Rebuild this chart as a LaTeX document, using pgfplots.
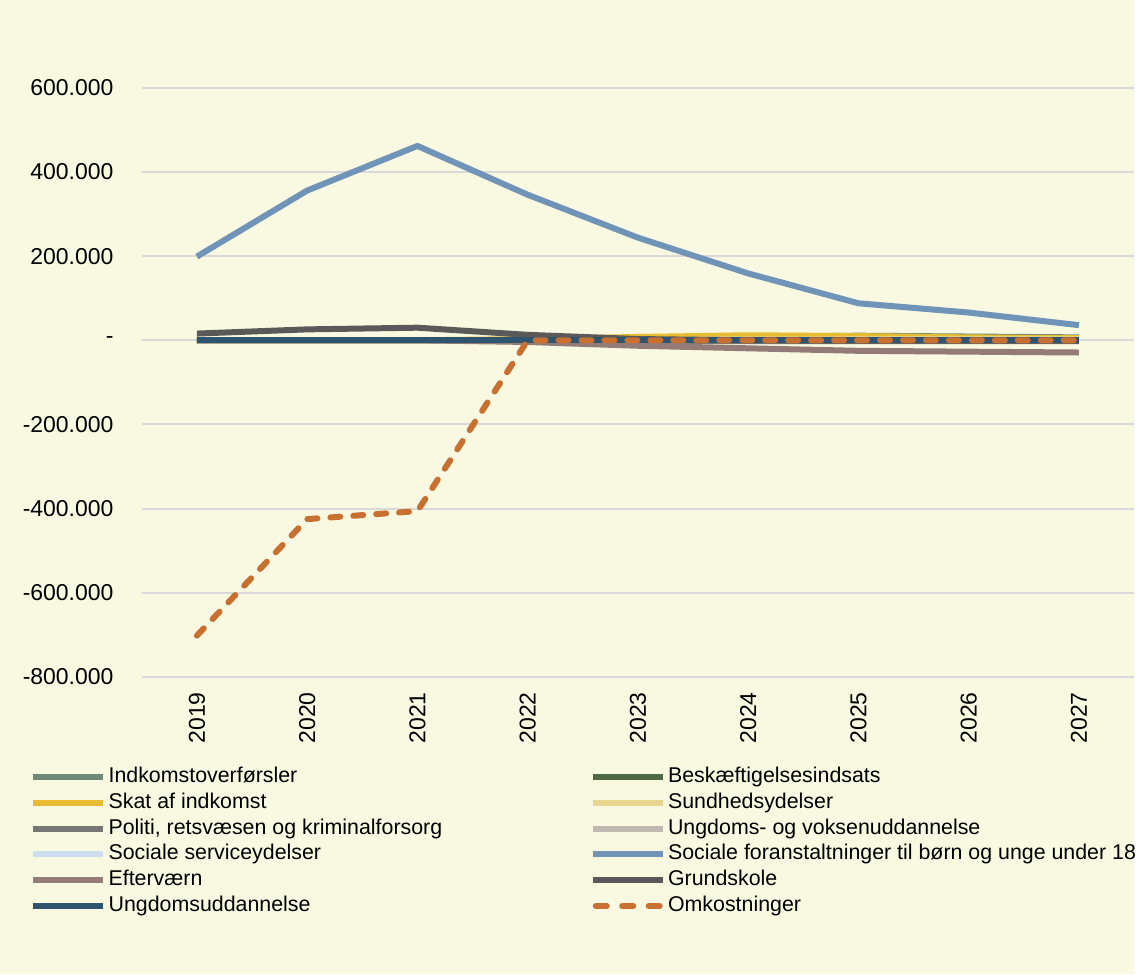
\documentclass[border=0pt]{standalone}
\usepackage{fontspec}
\setmainfont{Liberation Sans}
\usepackage{pgfplots}
\pgfplotsset{compat=1.18}
\pgfplotsset{omklegend/.style={legend image code/.code={\draw[##1, dash pattern=on 5.5pt off 7.75pt] (1.5pt,0pt) -- (33.5pt,0pt);}}}
\definecolor{bg}{HTML}{F9F8E1}
\definecolor{gridc}{HTML}{D9D9D9}
\definecolor{cInd}{HTML}{6E8B7A}
\definecolor{cBes}{HTML}{4F6B45}
\definecolor{cSkat}{HTML}{E8BC30}
\definecolor{cSund}{HTML}{E8D590}
\definecolor{cPol}{HTML}{777777}
\definecolor{cUngV}{HTML}{BEB8B0}
\definecolor{cSoc}{HTML}{CCDDF0}
\definecolor{cFor}{HTML}{7094B8}
\definecolor{cEft}{HTML}{957B78}
\definecolor{cGrund}{HTML}{595959}
\definecolor{cUngd}{HTML}{2F5470}
\definecolor{cOmk}{HTML}{C87030}
\begin{document}
\begin{tikzpicture}
\fill[bg] (0,0) rectangle (568pt,-488pt);
\begin{axis}[
  at={(71pt,-339pt)}, anchor=south west,
  scale only axis, width=497pt, height=295pt,
  xmin=-0.5, xmax=8.5, ymin=-800000, ymax=600000,
  scaled y ticks=false,
  axis line style={draw=none}, major tick length=0pt,
  xtick={0,...,8},
  xticklabels={2019,2020,2021,2022,2023,2024,2025,2026,2027},
  xticklabel style={rotate=90, anchor=east, font=\fontsize{11.5}{13}\selectfont, inner sep=0pt, xshift=-7.5pt},
  ytick={-800000,-600000,-400000,-200000,0,200000,400000,600000},
  yticklabels={-800.000,-600.000,-400.000,-200.000,-,200.000,400.000,600.000},
  yticklabel style={anchor=east, inner sep=0pt, xshift=-14pt, font=\fontsize{11.5}{13}\selectfont},
  ymajorgrids, major grid style={draw=gridc, line width=1pt},
  every axis plot/.append style={line width=3pt, line join=round},
  legend columns=2,
  legend cell align=left,
  legend image code/.code={\draw[#1] (0pt,0pt) -- (35pt,0pt);},
  legend style={draw=none, fill=none, inner sep=0pt, at={(-0.1127,-0.153)}, anchor=north west,
    font=\fontsize{10.7}{12}\selectfont,
    nodes={inner sep=0pt, text height=7.6pt, text depth=2.2pt},
    row sep=3.1pt,
    /tikz/every even column/.append style={column sep=0pt},
  },
]
\addplot[cInd] coordinates {(0,0)(1,0)(2,0)(3,1000)(4,4000)(5,8000)(6,11000)(7,9000)(8,7000)};
\addlegendentry{\hspace{1.2pt}Indkomstoverførsler}
\addplot[cBes] coordinates {(0,0)(1,0)(2,0)(3,500)(4,2000)(5,3000)(6,4000)(7,4000)(8,3000)};
\addlegendentry{\hspace{1.2pt}Beskæftigelsesindsats}
\addplot[cSkat] coordinates {(0,0)(1,0)(2,0)(3,3000)(4,8000)(5,12000)(6,10000)(7,7000)(8,5000)};
\addlegendentry{\hspace{1.2pt}Skat af indkomst}
\addplot[cSund] coordinates {(0,0)(1,0)(2,0)(3,0)(4,1000)(5,1500)(6,2000)(7,2000)(8,2000)};
\addlegendentry{\hspace{1.2pt}Sundhedsydelser}
\addplot[cPol] coordinates {(0,0)(1,0)(2,0)(3,0)(4,-1000)(5,-2000)(6,-2000)(7,-2000)(8,-2000)};
\addlegendentry{\hspace{1.2pt}\makebox[241pt][l]{Politi, retsvæsen og kriminalforsorg}}
\addplot[cUngV] coordinates {(0,0)(1,0)(2,0)(3,0)(4,0)(5,0)(6,0)(7,0)(8,0)};
\addlegendentry{\hspace{1.2pt}Ungdoms- og voksenuddannelse}
\addplot[cSoc] coordinates {(0,0)(1,0)(2,0)(3,0)(4,500)(5,1000)(6,1000)(7,1000)(8,1000)};
\addlegendentry{\hspace{1.2pt}Sociale serviceydelser}
\addplot[cFor] coordinates {(0,199000)(1,356000)(2,462000)(3,346000)(4,244000)(5,159000)(6,88000)(7,66000)(8,36000)};
\addlegendentry{\hspace{1.2pt}Sociale foranstaltninger til børn og unge under 18}
\addplot[cEft] coordinates {(0,0)(1,0)(2,0)(3,-4000)(4,-13000)(5,-19000)(6,-25000)(7,-27000)(8,-29000)};
\addlegendentry{\hspace{1.2pt}Efterværn}
\addplot[cGrund] coordinates {(0,16000)(1,26000)(2,30000)(3,13000)(4,3000)(5,0)(6,-1000)(7,-1000)(8,-1000)};
\addlegendentry{\hspace{1.2pt}Grundskole}
\addplot[cUngd] coordinates {(0,0)(1,0)(2,0)(3,0)(4,0)(5,0)(6,0)(7,0)(8,0)};
\addlegendentry{\hspace{1.2pt}Ungdomsuddannelse}
\addplot[cOmk, line cap=round, dash pattern=on 5pt off 6.5pt, omklegend]
  coordinates {(0,-702000)(1,-425000)(2,-406000)(3,0)(4,0)(5,0)(6,0)(7,0)(8,0)};
\addlegendentry{\hspace{1.2pt}Omkostninger}
\end{axis}
\end{tikzpicture}
\end{document}
